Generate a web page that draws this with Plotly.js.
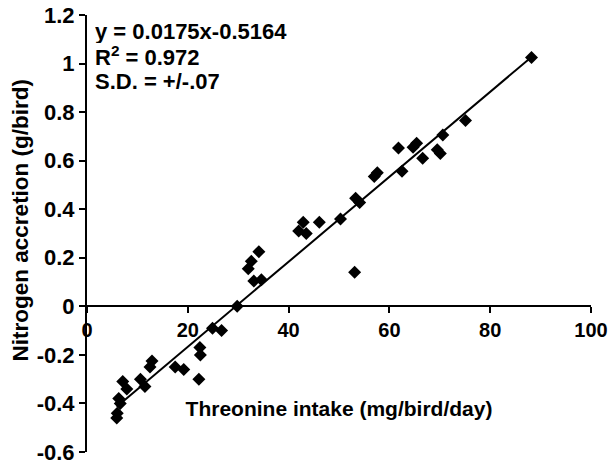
<!DOCTYPE html>
<html>
<head>
<meta charset="utf-8">
<script src="https://cdn.plot.ly/plotly-3.0.1.min.js"></script>
<style>html,body{margin:0;padding:0;background:#fff;}#chart{width:608px;height:464px;}</style>
</head>
<body>
<div id="chart"></div>
<script>
// Threonine intake (mg/bird/day)
var intake = [5.9, 6.0, 6.3, 6.6, 7.1, 7.9, 10.6, 11.5, 12.5, 12.9, 17.5, 19.2, 22.2, 22.4, 22.5,
  24.9, 26.7, 29.8, 32.0, 32.6, 33.1, 34.1, 34.6, 42.0, 42.9, 43.5, 46.1, 50.3, 53.1, 53.3,
  54.1, 57.0, 57.6, 62.5, 61.8, 64.7, 65.4, 66.6, 69.5, 70.1, 70.6, 75.1, 88.2];
// Nitrogen accretion (g/bird)
var accretion = [-0.46, -0.44, -0.38, -0.40, -0.31, -0.34, -0.30, -0.33, -0.25, -0.225, -0.25, -0.26, -0.30, -0.17, -0.20,
  -0.09, -0.10, 0.0, 0.155, 0.186, 0.104, 0.225, 0.11, 0.31, 0.346, 0.30, 0.346, 0.36, 0.14, 0.445,
  0.428, 0.535, 0.55, 0.556, 0.652, 0.655, 0.672, 0.61, 0.645, 0.63, 0.706, 0.765, 1.025];

var slope = 0.0175;
var intercept = -0.5164;
var statLines = ['y = 0.0175x-0.5164', 'R<sup>2</sup> = 0.972', 'S.D. = +/-.07'];
var xTitle = 'Threonine intake (mg/bird/day)';
var yTitle = 'Nitrogen accretion (g/bird)';

var xTickVals = [0, 20, 40, 60, 80, 100];
var xTickText = ['0', '20', '40', '60', '80', '100'];
var yTickVals = [-0.6, -0.4, -0.2, 0, 0.2, 0.4, 0.6, 0.8, 1, 1.2];
var yTickText = ['-0.6', '-0.4', '-0.2', '0', '0.2', '0.4', '0.6', '0.8', '1', '1.2'];

var xMin = Math.min.apply(null, intake);
var xMax = Math.max.apply(null, intake);
var fitX = [xMin, xMax];
var fitY = fitX.map(function (v) { return slope * v + intercept; });

var FONT = 'Liberation Sans, Arial, sans-serif';

var traces = [
  {
    x: fitX, y: fitY, type: 'scatter', mode: 'lines',
    line: {color: '#000', width: 2}, hoverinfo: 'skip', showlegend: false
  },
  {
    x: intake, y: accretion, type: 'scatter', mode: 'markers',
    marker: {symbol: 'diamond', size: 10, color: '#000', line: {width: 0}},
    showlegend: false
  }
];

var annotations = statLines.map(function (t, i) {
  return {
    xref: 'paper', yref: 'paper', x: 0.012, y: 0.995 - i * 0.057,
    xanchor: 'left', yanchor: 'top', align: 'left', valign: 'middle', showarrow: false,
    height: 24,
    text: t, font: {family: FONT, size: 22, color: '#000', weight: 'bold'}
  };
});
annotations.push({
  xref: 'paper', yref: 'paper', x: -0.132, y: 0.531,
  xanchor: 'center', yanchor: 'middle', textangle: -90, showarrow: false,
  text: yTitle, font: {family: FONT, size: 22.5, color: '#000', weight: 'bold'}
});

var layout = {
  width: 608, height: 464,
  margin: {l: 87, r: 17, t: 15, b: 12},
  paper_bgcolor: '#fff', plot_bgcolor: '#fff',
  showlegend: false,
  font: {family: FONT, color: '#000'},
  xaxis: {
    range: [0, 100], anchor: 'free', position: 1 / 3,
    tickvals: xTickVals, ticktext: xTickText, ticklabeloverflow: 'allow',
    showline: true, linecolor: '#000', linewidth: 2,
    ticks: 'outside', ticklen: 6, tickwidth: 2, tickcolor: '#000',
    showgrid: false, zeroline: false, automargin: false,
    tickfont: {family: FONT, size: 20, color: '#000', weight: 'bold'},
    title: {text: xTitle, standoff: 60,
      font: {family: FONT, size: 21, color: '#000', weight: 'bold'}}
  },
  yaxis: {
    range: [-0.6, 1.2],
    tickvals: yTickVals, ticktext: yTickText, ticklabeloverflow: 'allow',
    showline: true, linecolor: '#000', linewidth: 2,
    ticks: 'outside', ticklen: 6, tickwidth: 2, tickcolor: '#000',
    showgrid: false, zeroline: false, automargin: false,
    tickfont: {family: FONT, size: 22, color: '#000', weight: 'bold'}
  },
  annotations: annotations
};

Plotly.newPlot('chart', traces, layout, {displayModeBar: false, staticPlot: true});
</script>
</body>
</html>
